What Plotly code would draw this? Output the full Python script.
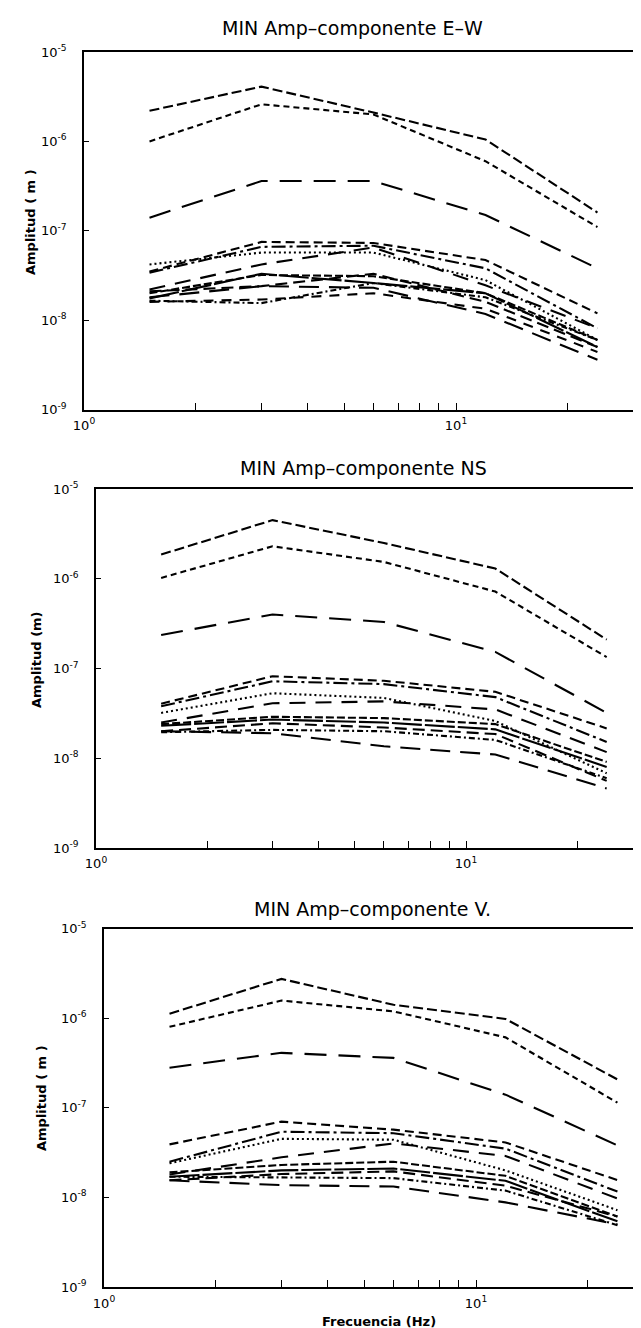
import plotly.graph_objects as go

# ---------------- data ----------------
FREQ_HZ = [1.5, 3, 6, 12, 24]

Y_TICK_VALUES = [1e-9, 1e-8, 1e-7, 1e-6, 1e-5]
Y_TICK_LABELS = ["10<sup>-9</sup>", "10<sup>-8</sup>", "10<sup>-7</sup>",
                 "10<sup>-6</sup>", "10<sup>-5</sup>"]
X_TICK_VALUES = [1, 2, 3, 4, 5, 6, 7, 8, 9, 10, 20]
X_TICK_LABELS = ["10<sup>0</sup>", "", "", "", "", "", "", "", "",
                 "10<sup>1</sup>", ""]

TITLES = ["MIN Amp\u2013componente E\u2013W",
          "MIN Amp\u2013componente NS",
          "MIN Amp\u2013componente V."]
Y_TITLES = ["Amplitud ( m )", "Amplitud (m)", "Amplitud ( m )"]
X_TITLE = "Frecuencia (Hz)"

# Component E-W
EW_01 = [2.2e-6, 4.1e-6, 2.1e-6, 1.05e-6, 1.6e-7]
EW_02 = [1.0e-6, 2.6e-6, 2.0e-6, 6.0e-7, 1.1e-7]
EW_03 = [1.4e-7, 3.6e-7, 3.6e-7, 1.5e-7, 3.8e-8]
EW_04 = [3.5e-8, 7.5e-8, 7.3e-8, 4.7e-8, 1.19e-8]
EW_05 = [3.4e-8, 6.6e-8, 6.8e-8, 3.8e-8, 8.1e-9]
EW_06 = [4.2e-8, 5.7e-8, 5.7e-8, 2.8e-8, 6.0e-9]
EW_07 = [2.2e-8, 4.2e-8, 6.5e-8, 2.45e-8, 8.1e-9]
EW_08 = [2.0e-8, 3.2e-8, 3.1e-8, 2.0e-8, 6.0e-9]
EW_09 = [1.75e-8, 3.3e-8, 2.6e-8, 2.0e-8, 5.0e-9]
EW_10 = [2.1e-8, 2.4e-8, 3.3e-8, 1.6e-8, 5.0e-9]
EW_11 = [1.65e-8, 1.55e-8, 2.6e-8, 1.8e-8, 6.0e-9]
EW_12 = [1.8e-8, 2.4e-8, 2.3e-8, 1.17e-8, 3.6e-9]
EW_13 = [1.6e-8, 1.7e-8, 2.0e-8, 1.34e-8, 4.4e-9]

# Component NS
NS_01 = [1.86e-6, 4.5e-6, 2.5e-6, 1.3e-6, 2.1e-7]
NS_02 = [1.02e-6, 2.3e-6, 1.54e-6, 7.2e-7, 1.34e-7]
NS_03 = [2.36e-7, 4.0e-7, 3.3e-7, 1.53e-7, 3.2e-8]
NS_04 = [4.05e-8, 8.2e-8, 7.3e-8, 5.5e-8, 2.15e-8]
NS_05 = [3.8e-8, 7.2e-8, 6.7e-8, 4.8e-8, 1.52e-8]
NS_06 = [3.2e-8, 5.3e-8, 4.7e-8, 2.6e-8, 6.8e-9]
NS_07 = [2.5e-8, 4.1e-8, 4.3e-8, 3.5e-8, 1.17e-8]
NS_08 = [2.4e-8, 2.9e-8, 2.8e-8, 2.4e-8, 9.1e-9]
NS_09 = [2.3e-8, 2.7e-8, 2.5e-8, 2.1e-8, 8.0e-9]
NS_10 = [2.0e-8, 2.45e-8, 2.2e-8, 1.86e-8, 5.6e-9]
NS_11 = [1.95e-8, 2.07e-8, 2.0e-8, 1.6e-8, 6.0e-9]
NS_12 = [2.0e-8, 1.9e-8, 1.36e-8, 1.1e-8, 4.6e-9]

# Component V
V_01 = [1.12e-6, 2.74e-6, 1.41e-6, 9.8e-7, 2.07e-7]
V_02 = [8.0e-7, 1.57e-6, 1.19e-6, 6.1e-7, 1.14e-7]
V_03 = [2.8e-7, 4.1e-7, 3.6e-7, 1.4e-7, 3.8e-8]
V_04 = [3.9e-8, 7.0e-8, 5.7e-8, 4.1e-8, 1.56e-8]
V_05 = [2.5e-8, 5.4e-8, 5.2e-8, 3.5e-8, 1.16e-8]
V_06 = [2.4e-8, 4.5e-8, 4.4e-8, 2.0e-8, 7.2e-9]
V_07 = [1.8e-8, 2.8e-8, 4.0e-8, 2.9e-8, 9.7e-9]
V_08 = [1.9e-8, 2.3e-8, 2.5e-8, 1.74e-8, 6.1e-9]
V_09 = [1.7e-8, 2.0e-8, 2.1e-8, 1.53e-8, 5.4e-9]
V_10 = [1.55e-8, 1.82e-8, 1.95e-8, 1.35e-8, 6.1e-9]
V_11 = [1.7e-8, 1.67e-8, 1.64e-8, 1.19e-8, 4.9e-9]
V_12 = [1.55e-8, 1.37e-8, 1.32e-8, 8.8e-9, 5.0e-9]

PANEL_SERIES = [
    [EW_01, EW_02, EW_03, EW_04, EW_05, EW_06, EW_07, EW_08, EW_09, EW_10, EW_11, EW_12, EW_13],
    [NS_01, NS_02, NS_03, NS_04, NS_05, NS_06, NS_07, NS_08, NS_09, NS_10, NS_11, NS_12],
    [V_01, V_02, V_03, V_04, V_05, V_06, V_07, V_08, V_09, V_10, V_11, V_12],
]

# ---------------- styling ----------------
W, H = 641, 1328
DASHES = ["10px,4px", "6px,4px", "22px,12px", "9px,5px", "14px,4px,3px,4px",
          "2px,3px", "16px,10px", "8px,3px", "30px,3px", "12px,6px",
          "6px,3px,2px,3px", "20px,10px", "10px,8px"]

# pixel boxes of the plot areas: left, right, top, bottom, x-decade width
BOXES = [(76, 625, 44, 401.5, 372),
         (88, 636, 481, 840, 370),
         (96, 638, 920.5, 1279, 372)]
TITLE_POS = [(344, 20), (355, 460), (364, 901)]
YTITLE_POS = [(22, 214), (28, 652), (33, 1090)]
FONT = "DejaVu Sans"

fig = go.Figure()
layout = dict(width=W, height=H, margin=dict(l=0, r=0, t=0, b=0, autoexpand=False),
              template="none",
              paper_bgcolor="white", plot_bgcolor="white", showlegend=False)
annotations = []

for i, (series, box) in enumerate(zip(PANEL_SERIES, BOXES)):
    left, right, top, bottom, decade = box
    sfx = "" if i == 0 else str(i + 1)
    xr = (right - left) / decade
    layout["xaxis" + sfx] = dict(
        type="log", domain=[left / W, right / W], range=[0, xr],
        anchor="y" + sfx, showline=True, mirror=True, linecolor="black",
        linewidth=2 if i == 2 else 1.6, ticks="inside", ticklen=7, tickwidth=1.4,
        tickcolor="black", tickvals=X_TICK_VALUES, ticktext=X_TICK_LABELS,
        showgrid=False, zeroline=False, ticklabelstandoff=3, automargin=False,
        tickfont=dict(family=FONT, size=13, color="black"))
    layout["yaxis" + sfx] = dict(
        type="log", domain=[1 - bottom / H, 1 - top / H], range=[-9, -5],
        anchor="x" + sfx, showline=True, mirror=True, linecolor="black",
        linewidth=1.6, ticks="inside", ticklen=5, tickwidth=1.4,
        tickcolor="black", tickvals=Y_TICK_VALUES, ticktext=Y_TICK_LABELS,
        showgrid=False, zeroline=False, ticklabelstandoff=13, automargin=False,
        tickfont=dict(family=FONT, size=13, color="black"))
    for j, vals in enumerate(series):
        fig.add_trace(go.Scatter(
            x=FREQ_HZ, y=vals, mode="lines", xaxis="x" + sfx, yaxis="y" + sfx,
            line=dict(color="black", width=2.1, dash=DASHES[j % len(DASHES)]),
            hoverinfo="skip", showlegend=False))
    tx, ty = TITLE_POS[i]
    annotations.append(dict(text=TITLES[i], x=tx / W, y=1 - ty / H,
                            xref="paper", yref="paper", showarrow=False,
                            xanchor="center", yanchor="middle",
                            font=dict(family=FONT, size=19, color="black")))
    yx, yy = YTITLE_POS[i]
    annotations.append(dict(text="<b>" + Y_TITLES[i] + "</b>", x=yx / W,
                            y=1 - yy / H, xref="paper", yref="paper",
                            showarrow=False, textangle=-90,
                            xanchor="center", yanchor="middle",
                            font=dict(family=FONT, size=13, color="black")))

annotations.append(dict(text="<b>" + X_TITLE + "</b>", x=371 / W, y=1 - 1313 / H,
                        xref="paper", yref="paper", showarrow=False,
                        xanchor="center", yanchor="middle",
                        font=dict(family=FONT, size=13, color="black")))
layout["annotations"] = annotations
fig.update_layout(**layout)
fig.write_html("out.html")
